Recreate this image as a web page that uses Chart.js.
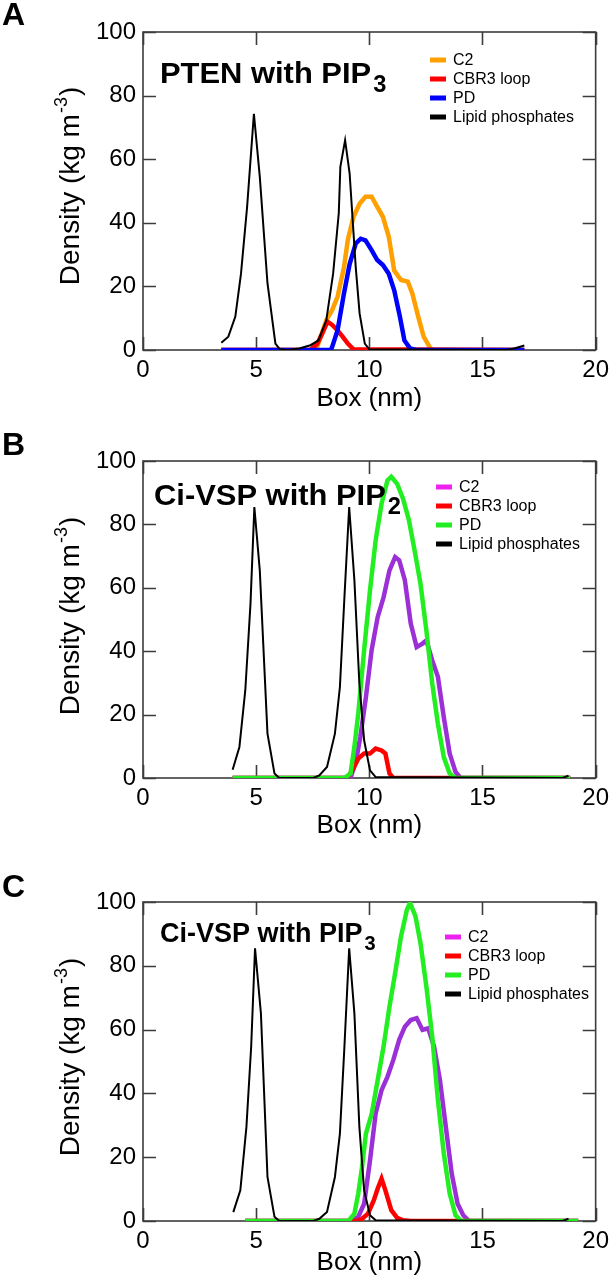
<!DOCTYPE html>
<html>
<head>
<meta charset="utf-8">
<script src="https://cdn.jsdelivr.net/npm/chart.js@4.4.0/dist/chart.umd.min.js"></script>
<style>
  html, body { margin: 0; padding: 0; background: #fff; }
  canvas { position: absolute; left: 0; }
</style>
</head>
<body>
<canvas id="chartA" width="615" height="430" style="top:0"></canvas>
<canvas id="chartB" width="615" height="430" style="top:430px"></canvas>
<canvas id="chartC" width="615" height="425" style="top:860px"></canvas>
<script>
// series names + ticks
const seriesNames = ['C2', 'CBR3 loop', 'PD', 'Lipid phosphates'];
const xTicks = [0, 5, 10, 15, 20];
const yTicks = [0, 20, 40, 60, 80, 100];

// ---- panel A : PTEN with PIP3 ----
const boxA_c2 = [3.46, 7.6, 7.7, 8.1, 8.36, 8.6, 8.88, 9.05, 9.3, 9.57, 9.83, 10.1, 10.35, 10.6, 10.86, 11.1, 11.4, 11.7, 11.9, 12.16, 12.4, 12.7, 12.85, 16.85];
const densA_c2 = [0, 0, 1, 9.4, 12.6, 16.8, 26, 34.6, 41.9, 46, 48.2, 48.2, 45, 41.9, 35.6, 25, 22, 21.5, 17.8, 10.5, 4.2, 0.5, 0, 0];
const boxA_cbr3 = [3.46, 7.4, 7.7, 7.92, 8.15, 8.36, 8.58, 8.82, 9.05, 9.3, 16.85];
const densA_cbr3 = [0, 0, 2, 5.2, 8.9, 7.9, 6.3, 4.2, 2, 0.2, 0];
const boxA_pd = [3.46, 8.3, 8.36, 8.6, 8.88, 9.13, 9.4, 9.62, 9.83, 10.1, 10.35, 10.6, 10.86, 11.1, 11.35, 11.55, 11.8, 12.07, 16.85];
const densA_pd = [0, 0, 1, 6.3, 17.8, 27, 33.5, 35, 34.5, 31.4, 28.3, 26.7, 24, 18.8, 10.5, 3, 0.5, 0, 0];
const boxA_lipid = [3.46, 3.77, 4.08, 4.33, 4.6, 4.9, 5.16, 5.5, 5.85, 6.05, 6.4, 6.9, 7.4, 7.75, 8.1, 8.4, 8.65, 8.72, 8.93, 9.13, 9.4, 9.57, 9.8, 10.0, 16.05, 16.4, 16.85];
const densA_lipid = [2.3, 4.2, 10.5, 24, 45, 74.3, 54.5, 21, 2, 0.2, 0, 0.5, 1.5, 3, 9.4, 24, 43, 57.6, 66, 55.5, 26, 11.5, 2, 0.2, 0, 0.5, 1.4];

// ---- panel B : Ci-VSP with PIP2 ----
const boxB_c2 = [3.96, 9.17, 9.42, 9.6, 9.85, 10.1, 10.37, 10.63, 10.89, 11.14, 11.32, 11.57, 11.83, 12.09, 12.35, 12.52, 12.78, 13.03, 13.29, 13.55, 13.81, 14.03, 18.88];
const densB_c2 = [0, 0, 5.6, 12.9, 25.5, 40.3, 50.8, 57, 65.5, 69.7, 68.7, 62.4, 48.7, 41.3, 42.4, 43.4, 37.1, 31.9, 19.2, 7.7, 1.9, 0, 0];
const boxB_cbr3 = [3.96, 9.0, 9.25, 9.51, 9.77, 10.03, 10.28, 10.54, 10.71, 10.89, 11.06, 18.88];
const densB_cbr3 = [0, 0, 2.4, 6.1, 7.7, 7.7, 9.3, 8.7, 7.7, 1.4, 0, 0];
const boxB_pd = [3.96, 8.9, 9.17, 9.34, 9.51, 9.77, 10.03, 10.28, 10.54, 10.8, 10.97, 11.23, 11.49, 11.75, 12.0, 12.26, 12.52, 12.78, 13.03, 13.29, 13.55, 13.81, 18.88];
const densB_pd = [0, 0, 1.4, 9.8, 20.3, 40.3, 59.2, 75, 86.5, 93.9, 95, 92.8, 88.1, 81.3, 71.8, 61.3, 46.6, 29.8, 17.1, 6.6, 1.4, 0, 0];
const boxB_lipid = [3.96, 4.26, 4.52, 4.75, 4.92, 5.16, 5.5, 5.81, 6.02, 7.53, 7.79, 8.13, 8.48, 8.7, 8.9, 9.11, 9.34, 9.56, 9.77, 10.03, 10.28, 18.54, 18.8];
const densB_lipid = [2.6, 9.8, 27.7, 55, 85.5, 65.5, 14, 1.4, 0, 0, 0.8, 3.5, 14, 28.7, 57, 85.5, 62.4, 29.8, 11.9, 2.4, 0.3, 0, 0.7];

// ---- panel C : Ci-VSP with PIP3 ----
const boxC_c2 = [4.52, 9.25, 9.51, 9.77, 10.03, 10.28, 10.54, 10.8, 11.06, 11.32, 11.57, 11.83, 12.09, 12.35, 12.6, 12.86, 13.12, 13.38, 13.64, 13.9, 14.15, 14.41, 19.23];
const densC_c2 = [0, 0, 1.3, 5.4, 19, 33.7, 41, 45.2, 50.5, 56.8, 60.9, 63, 63.6, 59.9, 60.4, 54.7, 44.2, 29.5, 14.9, 5.4, 1.8, 0, 0];
const boxC_cbr3 = [4.52, 9.42, 9.68, 9.94, 10.2, 10.37, 10.54, 10.71, 10.97, 11.23, 11.49, 11.83, 19.23];
const densC_cbr3 = [0, 0, 0.7, 2.3, 6.5, 10.2, 13.3, 9.6, 3.4, 1, 0.2, 0, 0];
const boxC_pd = [4.52, 9.08, 9.34, 9.51, 9.68, 9.85, 10.11, 10.37, 10.63, 10.89, 11.14, 11.4, 11.66, 11.8, 12.04, 12.26, 12.52, 12.78, 13.03, 13.29, 13.55, 13.81, 14.07, 19.23];
const densC_pd = [0, 0, 2.3, 8.6, 17, 27.4, 33.7, 44.2, 54.7, 67.2, 77.7, 89.2, 97.6, 99.7, 95.5, 87.1, 73.5, 57.8, 37.9, 21.2, 8.6, 1.8, 0, 0];
const boxC_lipid = [3.99, 4.3, 4.57, 4.78, 4.95, 5.21, 5.5, 5.81, 6.02, 7.53, 7.79, 8.13, 8.48, 8.7, 8.9, 9.11, 9.34, 9.56, 9.77, 10.03, 10.28, 18.54, 18.8];
const densC_lipid = [2.8, 9.6, 29.5, 54.7, 85.5, 65.1, 13.8, 1.3, 0, 0, 0.7, 2.8, 13.8, 27.4, 54.7, 85.5, 65.1, 29.5, 9.6, 1.8, 0.2, 0, 0.7];

const FONT = '"Liberation Sans", Arial, Helvetica, sans-serif';

const toXY = (xs, ys) => xs.map((x, i) => ({ x: x, y: ys[i] }));

// frame box + inward ticks on all 4 sides (xmgrace look)
const frameTicks = {
  id: 'frameTicks',
  beforeDatasetsDraw(chart) {
    const { ctx, chartArea: a, scales: { x, y } } = chart;
    const len = 13;
    ctx.save();
    ctx.strokeStyle = '#3c3c3c';
    ctx.lineWidth = 1.6;
    ctx.strokeRect(a.left, a.top, a.right - a.left, a.bottom - a.top);
    ctx.beginPath();
    x.ticks.forEach(t => {
      const px = Math.round(x.getPixelForValue(t.value)) + 0.5;
      ctx.moveTo(px, a.bottom); ctx.lineTo(px, a.bottom - len);
      ctx.moveTo(px, a.top); ctx.lineTo(px, a.top + len);
    });
    y.ticks.forEach(t => {
      const py = Math.round(y.getPixelForValue(t.value)) + 0.5;
      ctx.moveTo(a.left, py); ctx.lineTo(a.left + len, py);
      ctx.moveTo(a.right, py); ctx.lineTo(a.right - len, py);
    });
    ctx.stroke();
    ctx.restore();
  }
};

// panel letter, heading w/ subscript, y title w/ superscript, inset legend
const panelText = {
  id: 'panelText',
  afterDraw(chart, args, o) {
    const ctx = chart.ctx;
    ctx.save();
    ctx.fillStyle = '#000';
    ctx.textBaseline = 'alphabetic';
    ctx.textAlign = 'left';

    ctx.font = 'bold 32px ' + FONT;
    ctx.fillText(o.letter, 2, o.letterY);

    // heading, slightly stretched like the original
    ctx.save();
    ctx.translate(o.headX, o.headY);
    ctx.scale(o.headStretch, 1);
    ctx.font = 'bold ' + o.headSize + 'px ' + FONT;
    ctx.fillText(o.head, 0, 0);
    const w = ctx.measureText(o.head).width;
    ctx.font = 'bold ' + Math.round(o.headSize * 0.75) + 'px ' + FONT;
    ctx.fillText(o.headSub, w + 2, Math.round(o.headSize * 0.3));
    ctx.restore();

    // y axis title, rotated
    ctx.save();
    ctx.translate(69, o.yTitleY);
    ctx.rotate(-Math.PI / 2);
    const big = '28px ' + FONT, small = '18px ' + FONT;
    const p1 = 'Density (kg m', sup = '-3', p2 = ')';
    ctx.font = big; const w1 = ctx.measureText(p1).width, w3 = ctx.measureText(p2).width;
    ctx.font = small; const w2 = ctx.measureText(sup).width;
    let sx = -(w1 + w2 + w3) / 2;
    ctx.font = big; ctx.fillText(p1, sx, 10);
    ctx.font = small; ctx.fillText(sup, sx + w1 + 1, -2);
    ctx.font = big; ctx.fillText(p2, sx + w1 + w2 + 2, 10);
    ctx.restore();

    // legend
    ctx.font = '16px ' + FONT;
    ctx.textBaseline = 'middle';
    chart.data.datasets.forEach((ds, i) => {
      const ry = o.legY + i * o.legStep;
      ctx.strokeStyle = ds.legendColor || ds.borderColor;
      ctx.lineWidth = 5;
      ctx.beginPath();
      ctx.moveTo(o.legX, ry); ctx.lineTo(o.legX + 16, ry);
      ctx.stroke();
      ctx.fillStyle = '#000';
      ctx.fillText(ds.label, o.legX + 23, ry + 1);
    });
    ctx.restore();
  }
};

function makeChart(id, p) {
  const colors = [p.c2Color, '#ff0000', p.pdColor, '#000000'];
  const widths = [4.5, 4.5, 4.5, 2];
  const orders = [3, 2, 1, 0];
  return new Chart(document.getElementById(id), {
    type: 'line',
    data: {
      datasets: p.series.map((s, i) => ({
        label: seriesNames[i],
        data: toXY(s[0], s[1]),
        borderColor: colors[i],
        legendColor: i === 0 ? p.c2Legend : undefined,
        borderWidth: widths[i],
        pointRadius: 0,
        tension: 0,
        fill: false,
        order: orders[i]
      }))
    },
    options: {
      responsive: false,
      animation: false,
      devicePixelRatio: 1,
      layout: { padding: { left: 0, top: p.top, right: 615 - p.right, bottom: 0 } },
      plugins: {
        legend: { display: false },
        tooltip: { enabled: false },
        panelText: p.text
      },
      scales: {
        x: {
          type: 'linear', min: 0, max: 20,
          afterBuildTicks: s => { s.ticks = xTicks.map(v => ({ value: v })); },
          afterFit: s => { s.height = p.h - p.bottom; },
          grid: { display: false, drawTicks: false },
          border: { display: false },
          ticks: { color: '#000', padding: 6, maxRotation: 0, font: { family: FONT, size: 24 } },
          title: {
            display: true, text: 'Box (nm)', color: '#000',
            font: { family: FONT, size: 26 },
            padding: { top: 0, bottom: p.xTitlePad }
          }
        },
        y: {
          min: 0, max: 100,
          afterBuildTicks: s => { s.ticks = yTicks.map(v => ({ value: v })); },
          afterFit: s => { s.width = p.left; },
          grid: { display: false, drawTicks: false },
          border: { display: false },
          ticks: { color: '#000', padding: 7, font: { family: FONT, size: 24 } }
        }
      }
    },
    plugins: [frameTicks, panelText]
  });
}

makeChart('chartA', {
  h: 430, left: 143, right: 598, top: 32, bottom: 350, xTitlePad: 16,
  c2Color: '#ffa000', c2Legend: '#ffa000', pdColor: '#0000ff',
  series: [[boxA_c2, densA_c2], [boxA_cbr3, densA_cbr3], [boxA_pd, densA_pd], [boxA_lipid, densA_lipid]],
  text: { letter: 'A', letterY: 25, head: 'PTEN with PIP', headSub: '3', headSize: 30, headStretch: 1.03, headX: 160, headY: 83,
          yTitleY: 187, legX: 430, legY: 60, legStep: 19 }
});

makeChart('chartB', {
  h: 430, left: 143, right: 601, top: 31, bottom: 348, xTitlePad: 19,
  c2Color: '#9b30d6', c2Legend: '#ee22ee', pdColor: '#22ee22',
  series: [[boxB_c2, densB_c2], [boxB_cbr3, densB_cbr3], [boxB_pd, densB_pd], [boxB_lipid, densB_lipid]],
  text: { letter: 'B', letterY: 25, head: 'Ci-VSP with PIP', headSub: '2', headSize: 30, headStretch: 1.03, headX: 154, headY: 75,
          yTitleY: 187, legX: 436, legY: 57, legStep: 19 }
});

makeChart('chartC', {
  h: 425, left: 143, right: 601, top: 42, bottom: 361, xTitlePad: 7,
  c2Color: '#9b30d6', c2Legend: '#ee22ee', pdColor: '#22ee22',
  series: [[boxC_c2, densC_c2], [boxC_cbr3, densC_cbr3], [boxC_pd, densC_pd], [boxC_lipid, densC_lipid]],
  text: { letter: 'C', letterY: 37, head: 'Ci-VSP with PIP', headSub: '3', headSize: 27, headStretch: 1.0, headX: 160, headY: 82,
          yTitleY: 198, legX: 445, legY: 77, legStep: 19 }
});
</script>
</body>
</html>
